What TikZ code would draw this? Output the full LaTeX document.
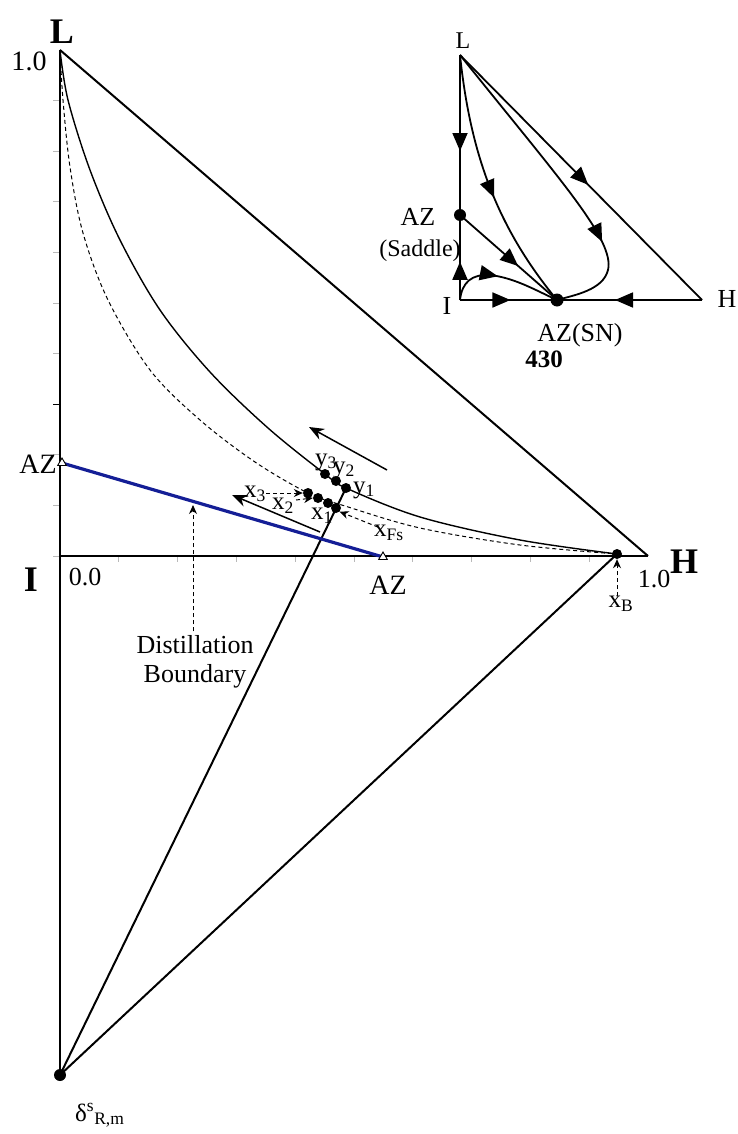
\documentclass[tikz,border=0pt]{standalone}
\usepackage{fontspec}
\setmainfont{Liberation Serif}
\usetikzlibrary{arrows.meta,decorations.markings,shapes.geometric}
\pgfdeclarelayer{bg}
\pgfsetlayers{bg,main}
\definecolor{bnd}{RGB}{20,30,150}
\tikzset{
  lbl/.style={font=\fontsize{26}{28}\selectfont, inner sep=0pt},
  ilbl/.style={font=\fontsize{24}{26}\selectfont, inner sep=0pt},
  sublbl/.style={font=\fontsize{25}{27}\selectfont, inner sep=0pt},
  biglbl/.style={font=\fontsize{36}{38}\selectfont\bfseries, inner sep=0pt},
  edge/.style={line width=2pt},
  iedge/.style={line width=1.8pt},
  curve/.style={line width=1.4pt},
  dcurve/.style={line width=1pt, dash pattern=on 4pt off 3pt},
  dot/.style={circle, fill=black, inner sep=0pt, minimum size=10pt},
  tri/.style={regular polygon, regular polygon sides=3, draw=black, fill=white, line width=0.9pt, inner sep=0pt, minimum size=10pt},
  dasharrow/.style={line width=1pt, dash pattern=on 4pt off 3pt, -{Stealth[length=9pt,width=8pt]}},
  solarrow/.style={line width=1.5pt, -{Stealth[length=15pt,width=12pt]}},
  midarr/.style={postaction={decorate}, decoration={markings, mark=at position #1 with {\arrow{Triangle[length=18pt,width=15pt]}}}},
  tick/.style={line width=0.8pt, draw=gray!55}
}
\begin{document}
\begin{tikzpicture}[x=1pt,y=-1pt]
\useasboundingbox (0,0) rectangle (738,1134);

% ---------- main diagram ----------
\coordinate (L) at (60,50);
\coordinate (I) at (60,556);
\coordinate (H) at (648,556);
\node[dot, minimum size=12pt] (D) at (60,1075) {};
\node[dot] (xB) at (617,554) {};
\node[tri] (AZl) at (62,463) {};
\node[tri] (AZb) at (383,557) {};
\node[dot] (y3) at (325,474) {};
\node[dot] (y2) at (336,481) {};
\node[dot] (y1) at (346,488) {};
\node[dot] (x3) at (308,493) {};
\node[dot] (x2) at (318,498) {};
\node[dot] (x1) at (328,503) {};
\node[dot] (xF) at (336,508) {};

\begin{pgfonlayer}{bg}
  % ticks
  \foreach \k in {1,2,4,5,6,7,8,9} {
    \draw[tick] (53,{556-50.6*\k}) -- (60,{556-50.6*\k});
    \draw[tick] ({60+58.8*\k},556) -- ({60+58.8*\k},562);
  }
  \draw[tick] (53,556) -- (60,556);
  \draw[line width=0.8pt] (53,{556-50.6*3}) -- (60,{556-50.6*3});
  \draw[tick] ({60+58.8*3},556) -- ({60+58.8*3},562);
  % frame
  \draw[edge] (L) -- (D.center);
  \draw[edge] (L) -- (H);
  \draw[edge] (I) -- (H);
  \draw[edge] (D.center) -- (xB.center);
  \draw[edge] (D.center) -- (y1.center);
  % boundary
  \draw[line width=3.2pt, bnd] (AZl.center) -- (AZb.center);
  % curves
  \draw[curve] plot[smooth, tension=0.55] coordinates {(60,50) (68,100) (90,170) (120,240) (160,310) (210,372) (268,428) (325,474) (346,488) (420,517) (520,540) (617,554)};
  \draw[dcurve] plot[smooth, tension=0.55] coordinates {(60,50) (63,100) (70,167) (83,233) (108,300) (150,370) (200,420) (255,462) (308,493) (345,506) (420,528) (520,545) (617,554)};
\end{pgfonlayer}

% direction arrows
\coordinate (a1) at (387,470);
\coordinate (a2) at (309,427);
\draw[solarrow] (a1) -- (a2);
\coordinate (b1) at (320,532);
\coordinate (b2) at (232,495);
\draw[solarrow] (b1) -- (b2);

% labels main
\node[biglbl] (Ll) at (62,32) {L};
\node[lbl, font=\fontsize{28}{30}\selectfont] (one) at (29,61) {1.0};
\node[lbl, font=\fontsize{28}{30}\selectfont] (AZlt) at (38,464) {AZ};
\node[biglbl] (Il) at (31,580) {I};
\node[lbl] (zero) at (85,577) {0.0};
\node[lbl, font=\fontsize{28}{30}\selectfont] (AZbt) at (388,585) {AZ};
\node[lbl] (oneH) at (654,579) {1.0};
\node[biglbl] (Hl) at (684,562) {H};

\node[sublbl, anchor=north] (xBl) at (621,596) {x\textsubscript{B}};
\draw[dasharrow] (xBl.north -| xB) -- (xB.south);

\node[lbl, align=center, font=\fontsize{26}{29}\selectfont] (db) at (195,662) {Distillation\\Boundary};
\coordinate (bd) at (193,505);
\draw[dasharrow] (db.north -| bd) ++(0,-4) -- (bd);

\node[sublbl, anchor=base west] (dl) at (75,1121) {δ\textsuperscript{s}\textsubscript{R,m}};

\node[sublbl] (y3l) at (326,462) {y\textsubscript{3}};
\node[sublbl] (y2l) at (344,470) {y\textsubscript{2}};
\node[sublbl] (y1l) at (364,490) {y\textsubscript{1}};
\node[sublbl] (x3l) at (255,494) {x\textsubscript{3}};
\node[sublbl] (x2l) at (283,506) {x\textsubscript{2}};
\node[sublbl] (x1l) at (322,516) {x\textsubscript{1}};
\node[sublbl] (xFl) at (389,533) {x\textsubscript{Fs}};

\draw[dasharrow] (x3l.east |- x3) -- (x3.west);
\coordinate (x2s) at (296,500);
\draw[dasharrow] (x2s) -- (x2.west);
\draw[dasharrow] (xFl.north west) ++(4,2) -- (xF.south east);

% ---------- inset ----------
\coordinate (iL) at (460,55);
\coordinate (iI) at (460,300);
\coordinate (iH) at (702,300);
\node[dot, minimum size=12pt] (iS) at (460,215) {};
\node[dot, minimum size=13pt] (iN) at (557,300) {};

\begin{pgfonlayer}{bg}
\draw[iedge, midarr=0.6] (iL) -- (iS.center);
\draw[iedge, midarr=0.45] (iI) -- (iS.center);
\draw[iedge, midarr=0.52] (iI) -- (iN.center);
\draw[iedge, midarr=0.6] (iH) -- (iN.center);
\draw[iedge, midarr=0.53] (iL) -- (iH);
\draw[iedge, midarr=0.6] (iS.center) -- (iN.center);
\draw[iedge, midarr=0.55] (iL) .. controls (470,150) and (495,225) .. (iN.center);
\draw[iedge, midarr=0.72] (iL) .. controls (560,180) and (615,240) .. (608,270) .. controls (603,290) and (575,295) .. (iN.center);
\draw[iedge, midarr=0.45] (iI) .. controls (462,282) and (472,274) .. (490,275) .. controls (515,278) and (535,290) .. (iN.center);
\end{pgfonlayer}

\node[ilbl] (iLl) at (463,41) {L};
\node[ilbl, font=\fontsize{26}{28}\selectfont] (iAZ) at (418,217) {AZ};
\node[ilbl] (iSad) at (420,251) {(Saddle)};
\node[ilbl, font=\fontsize{26}{28}\selectfont] (iIl) at (447,306) {I};
\node[ilbl, font=\fontsize{26}{28}\selectfont] (iHl) at (727,299) {H};
\node[ilbl, font=\fontsize{26}{28}\selectfont] (iSN) at (580,335) {AZ(SN)};
\node[ilbl, font=\fontsize{25}{27}\selectfont\bfseries] (n430) at (544,359) {430};
\end{tikzpicture}
\end{document}
